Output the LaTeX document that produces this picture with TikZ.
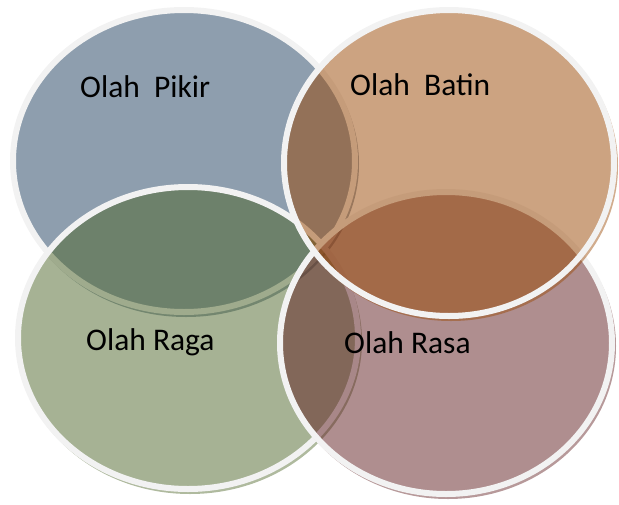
\documentclass[tikz,border=0pt]{standalone}
\usepackage{fontspec}
\setmainfont{Carlito}
\definecolor{cpikir}{RGB}{29,61,93}
\definecolor{craga}{RGB}{77,101,41}
\definecolor{crasa}{RGB}{95,29,31}
\definecolor{cbatin}{RGB}{153,71,3}
\definecolor{rimc}{RGB}{242,242,242}
\newcommand\vennshape[5]{%
  \begin{scope}[even odd rule]
    \clip (-20,-20) rectangle (640,530) (#1,#2) ellipse [x radius=#3, y radius=#4];
    \draw[line width=4pt, draw=#5, draw opacity=0.45] (#1+2,#2+3) ellipse [x radius=#3, y radius=#4];
  \end{scope}
  \fill[#5, fill opacity=0.5] (#1,#2) ellipse [x radius=#3, y radius=#4];
  \draw[rim] (#1,#2) ellipse [x radius=#3, y radius=#4];
}
\begin{document}
\begin{tikzpicture}[x=1pt,y=-1pt,
  rim/.style={line width=6pt, draw=rimc},
  lbl/.style={anchor=base west, inner sep=0pt, font=\fontsize{31.5}{38}\selectfont}]
\useasboundingbox (0,0) rectangle (619,504);
\vennshape{184}{161}{171}{151}{cpikir}
\vennshape{188}{338}{170}{151}{craga}
\vennshape{446}{343}{166}{151}{crasa}
\vennshape{449}{163}{165}{153}{cbatin}
\node[lbl] (pikir) at (80,97) {Olah\ \ Pikir};
\node[lbl] (batin) at (350,95) {Olah\ \ Batin};
\node[lbl] (raga) at (86,350) {Olah Raga};
\node[lbl] (rasa) at (344,353) {Olah Rasa};
\end{tikzpicture}
\end{document}
